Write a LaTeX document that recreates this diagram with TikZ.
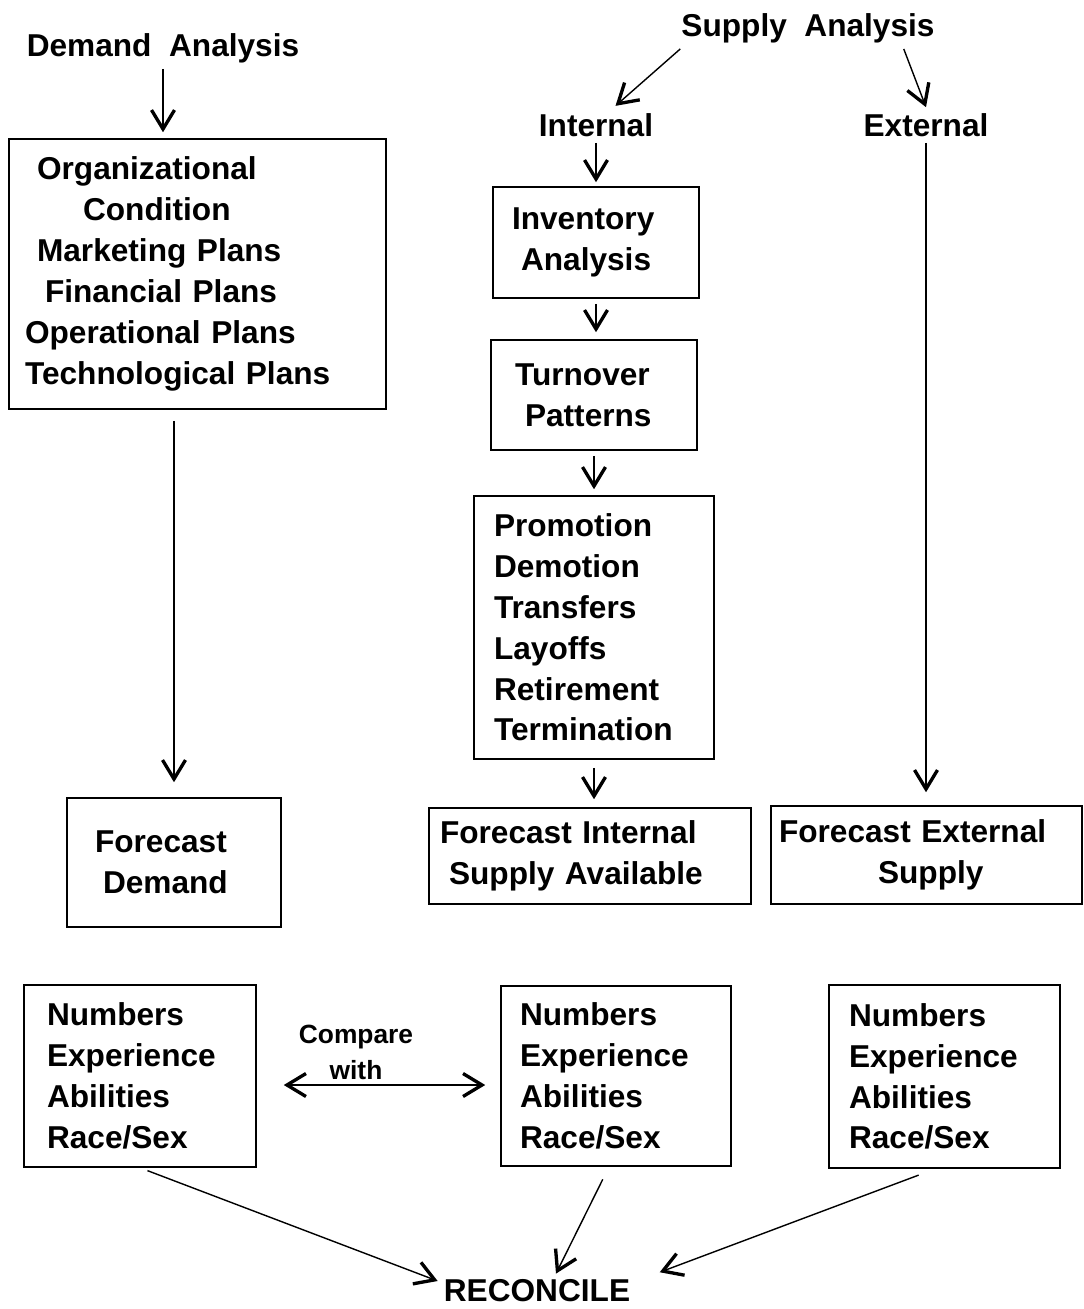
\documentclass[tikz,border=0pt]{standalone}
\usepackage{fontspec}
\setmainfont[WordSpace=2]{Liberation Sans}
\usetikzlibrary{arrows.meta}

\tikzset{
	>={Straight Barb[length=3.8mm,width=4.6mm,line width=1.9pt]},
	txt/.style={font=\bfseries\fontsize{18}{23.25}\selectfont},
	box/.style={txt, draw, line width=0.9pt, align=left, inner ysep=0pt},
	arr/.style={->, line width=0.8pt},
}

\begin{document}
\begin{tikzpicture}[x=0.02cm, y=-0.02cm]
	\useasboundingbox (0,0) rectangle (1084,1309);
	% demand side
	\node[txt] (dem) at (163,48) {Demand Analysis};
	\node[box, minimum width=7.54cm, minimum height=5.4cm, text width=6.9cm, inner xsep=0.32cm] (org) at (197.5,274)
		{\hspace*{0.24cm}Organizational\\ \hspace*{1.16cm}Condition\\ \hspace*{0.24cm}Marketing Plans\\ \hspace*{0.4cm}Financial Plans\\ Operational Plans\\ Technological Plans};
	\node[box, minimum width=4.28cm, minimum height=2.58cm, text width=3.16cm, inner xsep=0.56cm] (fdem) at (174,862.5)
		{Forecast\\ \hspace*{0.16cm}Demand};
	\draw[arr, shorten >=0.12cm] (dem.south) -- (dem.south |- org.north);
	\draw[arr, shorten <=0.22cm, shorten >=0.3cm] (fdem.north |- org.south) -- (fdem.north);

	% supply side
	\node[txt] (sup) at (808,28) {Supply Analysis};
	\node[txt] (int) at (596,125) {Internal};
	\node[txt] (ext) at (926,125) {External};
	\node[box, minimum width=4.12cm, minimum height=2.22cm, text width=3.36cm, inner xsep=0.38cm] (inv) at (596,242.5)
		{Inventory\\ \hspace*{0.18cm}Analysis};
	\node[box, minimum width=4.12cm, minimum height=2.2cm, text width=3.16cm, inner xsep=0.48cm] (turn) at (594,395)
		{Turnover\\ \hspace*{0.2cm}Patterns};
	\node[box, minimum width=4.8cm, minimum height=5.26cm, text width=4.0cm, inner xsep=0.4cm] (promo) at (594,627.5)
		{Promotion\\ Demotion\\ Transfers\\ Layoffs\\ Retirement\\ Termination};
	\node[box, minimum width=6.44cm, minimum height=1.92cm, text width=6.0cm, inner xsep=0.22cm] (fint) at (590,856)
		{Forecast Internal\\ \hspace*{0.18cm}Supply Available};
	\node[box, minimum width=6.22cm, minimum height=1.96cm, text width=5.9cm, inner xsep=0.16cm] (fext) at (926.5,855)
		{Forecast External\\ \hspace*{1.98cm}Supply};
	\draw[arr, shorten >=0.04cm] ([xshift=0.1cm]sup.south west) -- ([xshift=0.36cm]int.north);
	\draw[arr] ([xshift=-0.74cm]sup.south east) -- (ext.north);
	\draw[arr, shorten >=0.08cm] (int.south) -- (int.south |- inv.north);
	\draw[arr, shorten <=0.1cm, shorten >=0.14cm] (inv.south) -- (inv.south |- turn.north);
	\draw[arr, shorten <=0.1cm, shorten >=0.12cm] (turn.south) -- (turn.south |- promo.north);
	\draw[arr, shorten <=0.16cm, shorten >=0.16cm] (promo.south) -- (promo.south |- fint.north);
	\draw[arr, shorten >=0.26cm] (ext.south) -- (ext.south |- fext.north);

	% comparison
	\node[box, minimum width=4.64cm, minimum height=3.64cm, text width=3.72cm, inner xsep=0.46cm] (b1) at (140,1076)
		{Numbers\\ Experience\\ Abilities\\ Race/Sex};
	\node[box, minimum width=4.6cm, minimum height=3.6cm, text width=3.84cm, inner xsep=0.38cm] (b2) at (616,1076)
		{Numbers\\ Experience\\ Abilities\\ Race/Sex};
	\node[box, minimum width=4.62cm, minimum height=3.66cm, text width=3.82cm, inner xsep=0.4cm] (b3) at (944.5,1076.5)
		{Numbers\\ Experience\\ Abilities\\ Race/Sex};
	\node[font=\bfseries\fontsize{15}{20.4}\selectfont, align=center] (cmp) at (356,1052) {Compare\\with};
	\node[txt] (rec) at (537,1291) {RECONCILE};
	\draw[<->, line width=0.8pt, shorten <=0.54cm, shorten >=0.3cm] ([yshift=-0.18cm]b1.east) -- ([yshift=-0.18cm]b1.east -| b2.west);
	\draw[arr, shorten <=0.16cm] (b1.south) -- ([yshift=0.2cm]rec.west);
	\draw[arr, shorten <=0.28cm] ([xshift=-0.14cm]b2.south) -- ([xshift=0.38cm]rec.north);
	\draw[arr, shorten <=0.36cm, shorten >=0.5cm] ([xshift=-0.18cm]b3.south) -- ([yshift=0.2cm]rec.east);
\end{tikzpicture}
\end{document}
